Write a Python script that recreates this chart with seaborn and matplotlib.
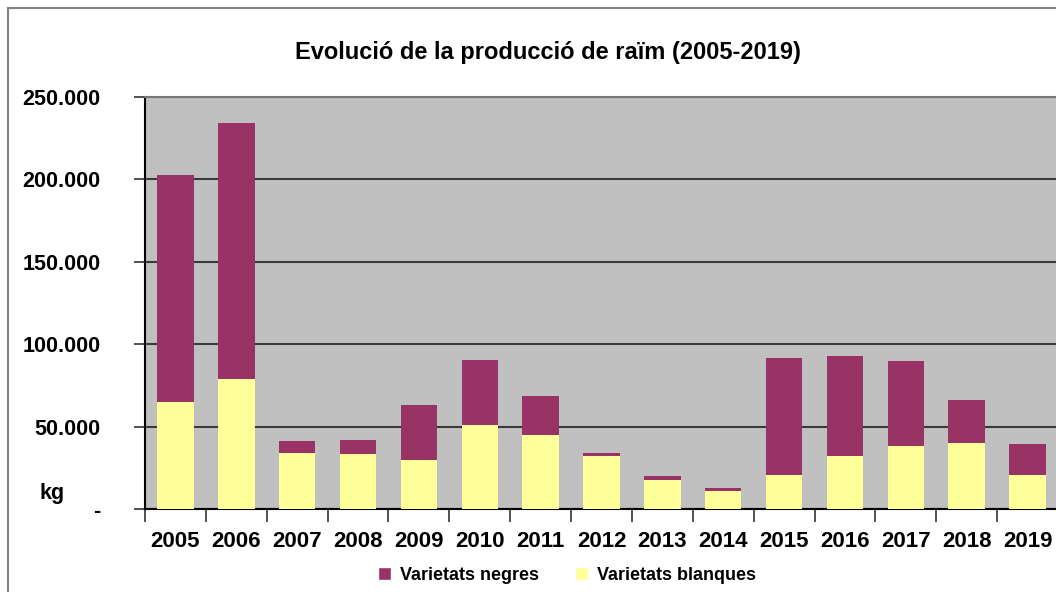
import numpy as np
import pandas as pd
import matplotlib
matplotlib.use('Agg')
import matplotlib.pyplot as plt
import seaborn as sns
from matplotlib.patches import Patch, Rectangle

years = ['2005', '2006', '2007', '2008', '2009', '2010', '2011', '2012',
         '2013', '2014', '2015', '2016', '2017', '2018', '2019']
total = [202700, 234200, 41300, 41900, 63100, 90400, 68600, 34000,
         20000, 12700, 91600, 92800, 89800, 66100, 39400]
blanques = [64900, 78900, 34000, 33400, 29700, 51000, 44900, 32200,
            17600, 10900, 20600, 32200, 38200, 40000, 20600]

COL_NEG = '#993366'
COL_BLA = '#FFFF99'

sns.set_style('white')
plt.rcParams['font.family'] = ['Liberation Sans', 'DejaVu Sans']
plt.rcParams['font.weight'] = 'bold'
plt.rcParams['text.color'] = 'black'
plt.rcParams['xtick.color'] = 'black'
plt.rcParams['ytick.color'] = 'black'

df = pd.DataFrame({'any': years, 'total': total, 'blanques': blanques})

fig = plt.figure(figsize=(10.56, 5.92), dpi=100)
ax = fig.add_axes([145 / 1056, 83 / 592, 913 / 1056, 412 / 592])
ax.set_facecolor('#C0C0C0')

sns.barplot(data=df, x='any', y='total', color=COL_NEG, width=0.6,
            saturation=1, linewidth=0, ax=ax, zorder=3)
sns.barplot(data=df, x='any', y='blanques', color=COL_BLA, width=0.6,
            saturation=1, linewidth=0, ax=ax, zorder=3)

ax.set_xlim(-0.5, len(years) - 0.5)
ax.set_ylim(0, 250000)
yt = [0, 50000, 100000, 150000, 200000, 250000]
ax.set_yticks(yt)
ax.set_yticklabels(['-'] + [f'{v:,}'.replace(',', '.') for v in yt[1:]])
ax.set_xticks(np.arange(-0.5, len(years)), labels=[''] * (len(years) + 1))
ax.set_xticks(np.arange(len(years)), labels=years, minor=True)
ax.tick_params(axis='x', which='major', length=9, width=1.2, color='#333333',
               direction='out', bottom=True)
ax.tick_params(axis='x', which='minor', length=0, pad=16, labelsize=16)
ax.tick_params(axis='y', length=8, width=1.2, color='#333333', pad=24,
               labelsize=15.5, left=True)
for lb in ax.get_xticklabels(minor=True) + ax.get_yticklabels():
    lb.set_fontweight('bold')

ax.yaxis.grid(True, color='#3a3a3a', linewidth=1.5, zorder=1)
ax.set_axisbelow(True)
ax.set_xlabel('')
ax.set_ylabel('')
for s in ['left', 'bottom']:
    ax.spines[s].set_color('black')
    ax.spines[s].set_linewidth(1.5)
ax.spines['top'].set_color('#777777')
ax.spines['top'].set_linewidth(1.5)
ax.spines['right'].set_visible(False)

fig.text(548 / 1056, 1 - 52 / 592, 'Evolució de la producció de raïm (2005-2019)',
         ha='center', va='center', fontsize=17, fontweight='bold')
fig.text(52 / 1056, 1 - 493 / 592, 'kg', ha='center', va='center',
         fontsize=15.5, fontweight='bold')

handles = [Patch(facecolor=COL_NEG, label='Varietats negres'),
           Patch(facecolor=COL_BLA, label='Varietats blanques')]
fig.legend(handles=handles, loc='center', bbox_to_anchor=(567 / 1056, 1 - 575 / 592),
           ncol=2, frameon=False, prop={'size': 13, 'weight': 'bold'},
           handlelength=0.7, handleheight=0.7, columnspacing=2.0, handletextpad=0.5)

fig.patches.append(Rectangle((8 / 1056, -0.1), 1.1, 1 - 8 / 592 + 0.1,
                             transform=fig.transFigure, fill=False,
                             edgecolor='#808080', linewidth=1.5))

fig.savefig('out.png', dpi=100)
